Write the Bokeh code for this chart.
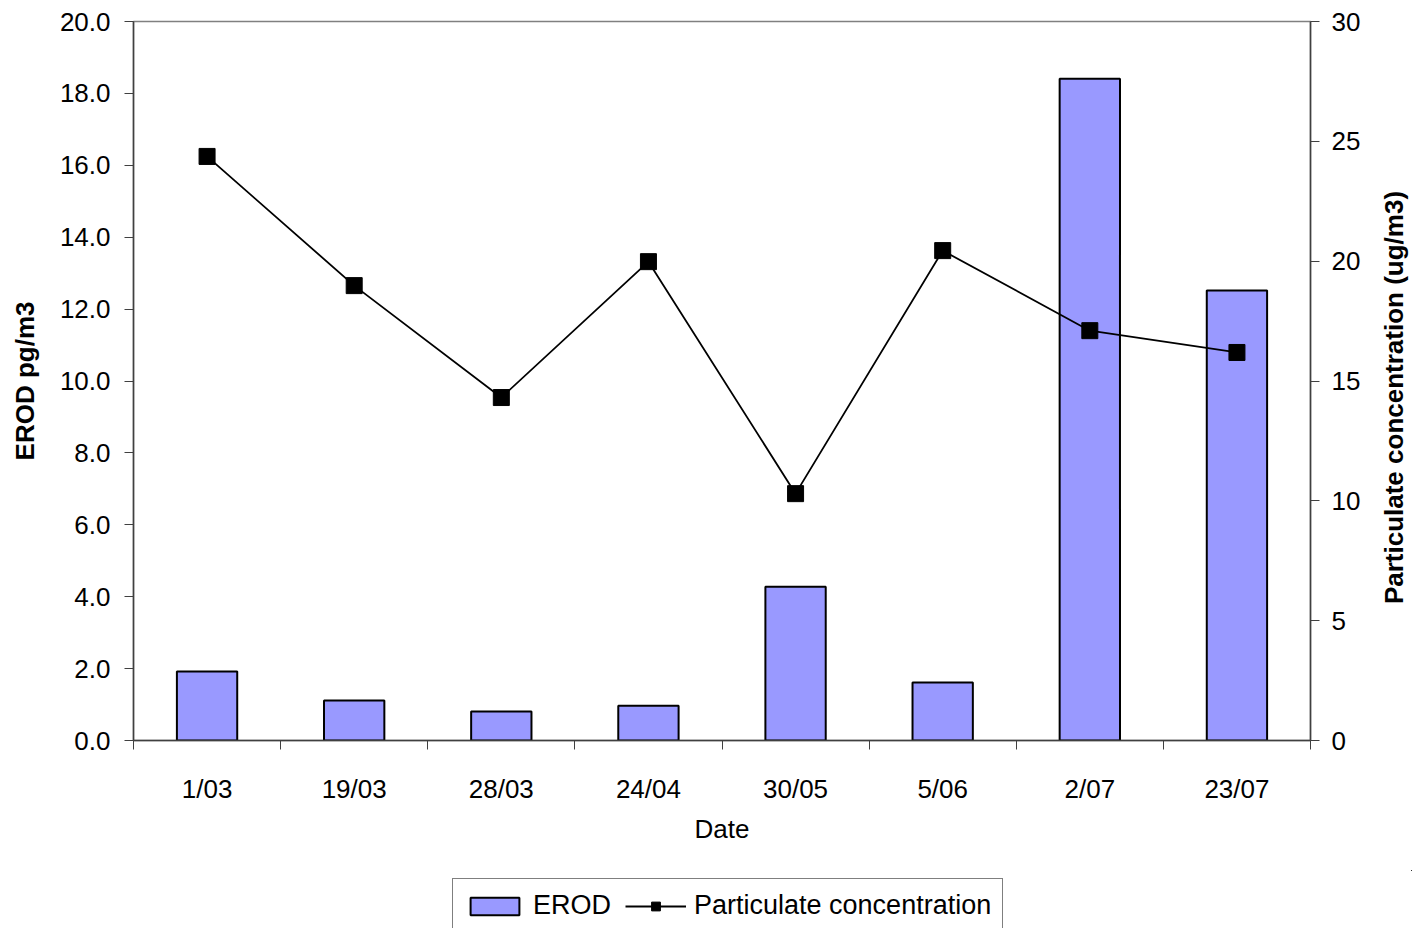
import math

from bokeh.plotting import figure
from bokeh.layouts import column, row
from bokeh.models import (Range1d, LinearAxis, FixedTicker, Legend, LegendItem,
                          ColumnDataSource, NumeralTickFormatter)
from bokeh.embed import file_html
from bokeh.resources import INLINE

# Sampling dates and measured values
dates = ["1/03", "19/03", "28/03", "24/04", "30/05", "5/06", "2/07", "23/07"]
erod = [1.92, 1.11, 0.81, 0.97, 4.28, 1.61, 18.41, 12.52]              # pg/m3
particulate = [24.37, 18.98, 14.31, 19.98, 10.30, 20.44, 17.10, 16.19]  # ug/m3

left_ticks = [0, 2, 4, 6, 8, 10, 12, 14, 16, 18, 20]
right_ticks = [0, 5, 10, 15, 20, 25, 30]

FONT = "Liberation Sans"
FS = "26px"
BAR_FILL = "#9999FF"
AXIS_COLOR = "#404040"

# category centres sit half-way between the boundary ticks
centres = [i + 0.5 for i in range(len(dates))]
source = ColumnDataSource(dict(x=centres, erod=erod, pc=particulate))


def draw_series(fig, **extra):
    """EROD bars plus the particulate line with square markers."""
    bars = fig.vbar(x="x", top="erod", width=0.41, source=source,
                    fill_color=BAR_FILL, line_color="black", line_width=2)
    line = fig.line(x="x", y="pc", source=source, line_color="black",
                    line_width=1.8, **extra)
    pts = fig.scatter(x="x", y="pc", source=source, marker="square", size=16,
                      fill_color="black", line_color="black", **extra)
    return bars, line, pts


# ---------------------------------------------------------------- main chart
p = figure(width=1380, height=870, output_backend="svg", toolbar_location=None,
           x_range=Range1d(0, len(dates)), y_range=Range1d(0, 20),
           min_border_left=133, min_border_right=70,
           min_border_top=21, min_border_bottom=130)
p.extra_y_ranges = {"pc": Range1d(0, 30)}

p.background_fill_color = "white"
p.border_fill_color = "white"
p.outline_line_color = "#808080"
p.outline_line_width = 1.5
p.xgrid.visible = False
p.ygrid.visible = False

draw_series(p, y_range_name="pc")

# bottom axis: labels at the centres, tick marks on the category boundaries
xa = p.xaxis[0]
xa.ticker = FixedTicker(ticks=centres, minor_ticks=list(range(len(dates) + 1)))
xa.major_label_overrides = {c: d for c, d in zip(centres, dates)}
xa.major_tick_out = 0
xa.major_tick_in = 0
xa.minor_tick_out = 9
xa.minor_tick_in = 0
xa.minor_tick_line_color = AXIS_COLOR
xa.axis_line_color = AXIS_COLOR
xa.axis_line_width = 1.5
xa.major_label_standoff = 24
xa.major_label_text_font = FONT
xa.major_label_text_font_size = FS
xa.major_label_text_color = "black"
xa.axis_label = "Date"
xa.axis_label_text_font = FONT
xa.axis_label_text_font_size = FS
xa.axis_label_text_font_style = "normal"
xa.axis_label_text_color = "black"
xa.axis_label_standoff = 7

ya = p.yaxis[0]
ya.ticker = FixedTicker(ticks=left_ticks)
ya.formatter = NumeralTickFormatter(format="0.0")
ya.minor_tick_line_color = None
ya.major_tick_out = 9
ya.major_tick_in = 0
ya.major_tick_line_color = AXIS_COLOR
ya.axis_line_color = AXIS_COLOR
ya.axis_line_width = 1.5
ya.major_label_standoff = 14
ya.major_label_text_font = FONT
ya.major_label_text_font_size = FS
ya.major_label_text_color = "black"
ya.axis_label = "EROD pg/m3"
ya.axis_label_text_font = FONT
ya.axis_label_text_font_size = FS
ya.axis_label_text_font_style = "bold"
ya.axis_label_text_color = "black"
ya.axis_label_standoff = 17

ra = LinearAxis(y_range_name="pc", ticker=FixedTicker(ticks=right_ticks))
ra.minor_tick_line_color = None
ra.major_tick_out = 9
ra.major_tick_in = 0
ra.major_tick_line_color = AXIS_COLOR
ra.axis_line_color = AXIS_COLOR
ra.axis_line_width = 1.5
ra.major_label_standoff = 12
ra.major_label_text_font = FONT
ra.major_label_text_font_size = FS
ra.major_label_text_color = "black"
p.add_layout(ra, "right")

# ------------------------------------------- right-hand title, read upwards
# y range runs top-down so the position reads as pixels from the top
side = figure(width=32, height=870, output_backend="svg", toolbar_location=None,
              title=None, x_range=Range1d(0, 32), y_range=Range1d(870, 0),
              x_axis_type=None, y_axis_type=None,
              min_border=0, outline_line_color=None,
              background_fill_color="white", border_fill_color="white")
side.grid.visible = False
side.text(x=[13], y=[455], text=["Particulate concentration (ug/m3)"],
          angle=math.pi / 2, text_align="center", text_baseline="middle",
          text_font={"value": FONT}, text_font_size={"value": FS},
          text_font_style="bold", text_color="black")

# ------------------------------------------------------------- legend strip
# the key renderers share the data but sit well outside this strip's view
strip = figure(width=1412, height=58, output_backend="svg", toolbar_location=None,
               title=None, x_range=Range1d(-40, -39), y_range=Range1d(-90, -89),
               x_axis_type=None, y_axis_type=None,
               min_border=0, outline_line_color=None,
               background_fill_color="white", border_fill_color="white")
strip.grid.visible = False
key_bar, key_line, key_pts = draw_series(strip)

legend = Legend(items=[LegendItem(label="EROD", renderers=[key_bar]),
                       LegendItem(label="Particulate concentration",
                                  renderers=[key_line, key_pts])],
                orientation="horizontal", location=(452, -5),
                border_line_color="black", border_line_width=1.2,
                background_fill_color="white", background_fill_alpha=1,
                label_text_font=FONT, label_text_font_size="27px",
                label_text_color="black",
                glyph_width=61, glyph_height=22, label_standoff=8,
                spacing=14, padding=11, margin=0)
strip.add_layout(legend, "center")

layout = column(row(p, side, spacing=0), strip, spacing=0)

open("out.html", "w").write(file_html(layout, INLINE))
